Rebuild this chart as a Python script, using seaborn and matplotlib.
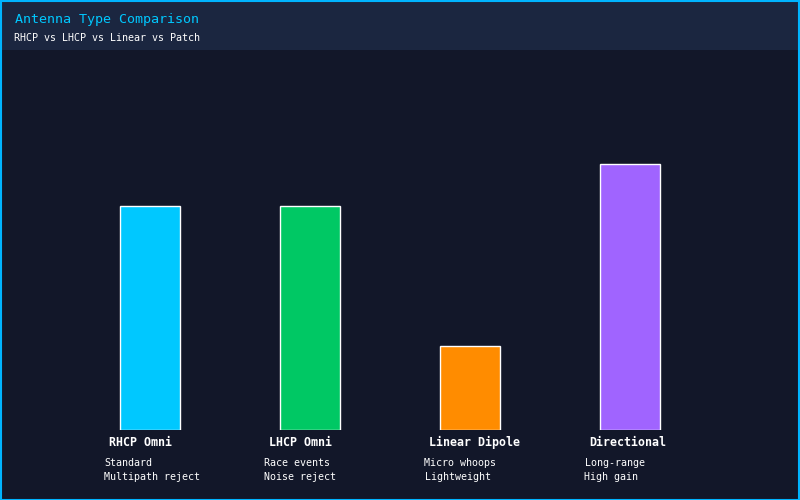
import numpy as np
import pandas as pd
import seaborn as sns
import matplotlib.pyplot as plt
from matplotlib.patches import Rectangle

## Data
antennas = ["RHCP Omni", "LHCP Omni", "Linear Dipole", "Directional"]
scores = [8, 8, 3, 9.5]
line1 = ["Standard", "Race events", "Micro whoops", "Long-range"]
line2 = ["Multipath reject", "Noise reject", "Lightweight", "High gain"]
colors = ["#00c8ff", "#00c864", "#ff8c00", "#a064ff"]

BG = "#121729"
HEADER = "#1b2640"
BORDER = "#00b4ff"

sns.set_style("dark")
plt.rcParams["font.family"] = ["DejaVu Sans Mono", "DejaVu Sans"]

df = pd.DataFrame({"antenna": antennas, "score": scores})

fig = plt.figure(figsize=(8, 5), dpi=100)
fig.patch.set_facecolor(BG)

# header band and outer border
fig.patches.append(Rectangle((0, 0.9), 1, 0.1, transform=fig.transFigure,
                             facecolor=HEADER, edgecolor="none", zorder=0))
fig.patches.append(Rectangle((0.001, 0.001), 0.998, 0.998, transform=fig.transFigure,
                             facecolor="none", edgecolor=BORDER, linewidth=1.5, zorder=5))

fig.text(15 / 800, 1 - 18 / 500, "Antenna Type Comparison", color="#00c8ff",
         fontsize=9.6, va="center_baseline", ha="left")
fig.text(14 / 800, 1 - 37 / 500, "RHCP vs LHCP vs Linear vs Patch", color="white",
         fontsize=7.2, va="center_baseline", ha="left")

ax = fig.add_axes([70 / 800, 70 / 500, 640 / 800, 370 / 500])
ax.set_facecolor(BG)
sns.barplot(data=df, x="antenna", y="score", hue="antenna", palette=colors,
            saturation=1, legend=False, width=0.375, edgecolor="white",
            linewidth=1, ax=ax)
ax.set_xlim(-0.5, 3.5)
ax.set_ylim(0, 370 / 28)
ax.set_xticks([])
ax.set_yticks([])
ax.set_xlabel("")
ax.set_ylabel("")
ax.grid(False)
for s in ax.spines.values():
    s.set_visible(False)

for i, name in enumerate(antennas):
    left = i - 0.1875
    ax.annotate(name, xy=(left, 0), xycoords=("data", "axes fraction"),
                xytext=(-11 * 0.72, -11 * 0.72), textcoords="offset points",
                ha="left", va="center_baseline", color="white", fontsize=8.4,
                fontweight="bold", annotation_clip=False)
    ax.annotate(line1[i], xy=(left, 0), xycoords=("data", "axes fraction"),
                xytext=(-15.5 * 0.72, -32 * 0.72), textcoords="offset points",
                ha="left", va="center_baseline", color="white", fontsize=7.2,
                annotation_clip=False)
    ax.annotate(line2[i], xy=(left, 0), xycoords=("data", "axes fraction"),
                xytext=(-15.5 * 0.72, -46 * 0.72), textcoords="offset points",
                ha="left", va="center_baseline", color="white", fontsize=7.2,
                annotation_clip=False)

fig.savefig("out.png", dpi=100, facecolor=BG)
